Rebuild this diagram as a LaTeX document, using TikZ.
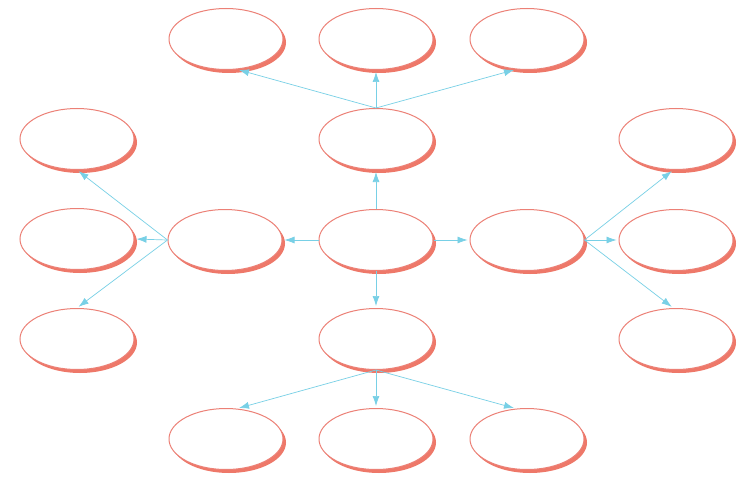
\documentclass[tikz,border=0pt]{standalone}
\usetikzlibrary{shapes.geometric,shadows,arrows.meta}
\definecolor{salmonline}{RGB}{236,128,118}
\definecolor{salmonshadow}{RGB}{238,120,105}
\definecolor{arrowcyan}{RGB}{120,208,230}
\begin{document}
\begin{tikzpicture}[x=1pt,y=-1pt,
  bubble/.style={ellipse, draw=salmonline, line width=1pt, fill=white,
    minimum width=114pt, minimum height=61pt, inner sep=0pt,
    drop shadow={shadow xshift=3pt, shadow yshift=-3.5pt, fill=salmonshadow, opacity=1}},
  link/.style={draw=arrowcyan, line width=0.7pt, shorten >=2pt,
    -{Latex[length=10pt,width=7pt]}}]
\useasboundingbox (0,0) rectangle (746,476);
\fill[white] (0,0) rectangle (746,476);
% nodes
\node[bubble] (c)  at (376,240) {};
\node[bubble] (t)  at (376,139) {};
\node[bubble] (t1) at (226,39) {};
\node[bubble] (t2) at (376,39) {};
\node[bubble] (t3) at (527,39) {};
\node[bubble] (l)  at (225,240) {};
\node[bubble] (l1) at (77,139) {};
\node[bubble] (l2) at (77,239) {};
\node[bubble] (l3) at (77,339) {};
\node[bubble] (r)  at (527,240) {};
\node[bubble] (r1) at (676,139) {};
\node[bubble] (r2) at (676,240) {};
\node[bubble] (r3) at (676,339) {};
\node[bubble] (b)  at (376,339) {};
\node[bubble] (b1) at (226,439) {};
\node[bubble] (b2) at (376,439) {};
\node[bubble] (b3) at (527,439) {};
% connectors
\draw[link] (c.north) -- (t.south);
\draw[link] (c.south) -- (b.north);
\draw[link] (c.west) -- (l.east);
\draw[link] (c.east) -- (r.west);
\draw[link] (t.north) -- (t1.290);
\draw[link] (t.north) -- (t2.south);
\draw[link] (t.north) -- (t3.250);
\draw[link] (b.south) -- (b1.70);
\draw[link] (b.south) -- (b2.north);
\draw[link] (b.south) -- (b3.110);
\draw[link] (l.west) -- (l1.south);
\draw[link] (l.west) -- (l2.east);
\draw[link] (l.west) -- (l3.north);
\draw[link] (r.east) -- (r1.265);
\draw[link] (r.east) -- (r2.west);
\draw[link] (r.east) -- (r3.95);
\end{tikzpicture}
\end{document}
